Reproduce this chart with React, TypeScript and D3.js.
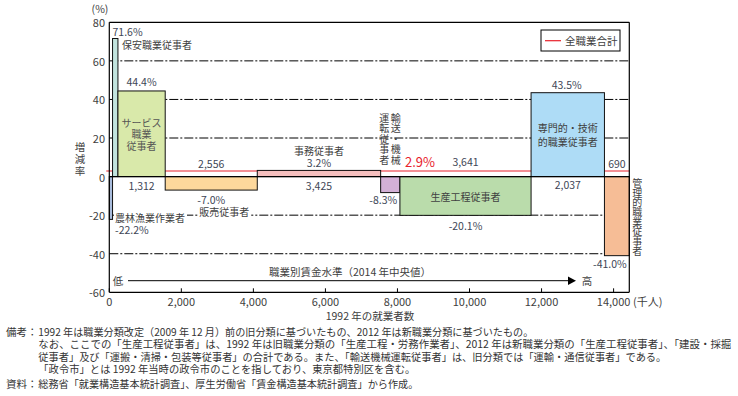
import { scaleLinear, format, cumsum } from 'd3';

const W = 738;
const H = 396;
const FONT = '"Noto Sans CJK JP", "Noto Sans", sans-serif';
const TXT = '#404040';
const LBL = '#3e4656';
const RED = '#e8212b';

// sorted by 2014 median wage, low -> high
const occupations = [
  '農林漁業作業者',
  '保安職業従事者',
  'サービス職業従事者',
  '販売従事者',
  '事務従事者',
  '輸送・機械運転従事者',
  '生産工程従事者',
  '専門的・技術的職業従事者',
  '管理的職業従事者',
];
const workers1992 = [90, 150, 1312, 2556, 3425, 535, 3641, 2037, 690];
const changeRate = [-22.2, 71.6, 44.4, -7.0, 3.2, -8.3, -20.1, 43.5, -41.0];
const barColors = ['#a9bcdc', '#c2e4de', '#d9e9aa', '#fdd89c', '#f5bfbe', '#d3b0d6', '#badcab', '#aedcf6', '#f6bd96'];
const totalChange = 2.9;
const yTicks = [-60, -40, -20, 0, 20, 40, 60, 80];
const gridValues = [-40, -20, 20, 40, 60];
const xTicks = [0, 2000, 4000, 6000, 8000, 10000, 12000, 14000];
const notesHead = ['備考：', '', '', '', '資料：'];
const notes = [
  '1992 年は職業分類改定（2009 年 12 月）前の旧分類に基づいたもの、2012 年は新職業分類に基づいたもの。',
  'なお、ここでの「生産工程従事者」は、1992 年は旧職業分類の「生産工程・労務作業者」、2012 年は新職業分類の「生産工程従事者」、「建設・採掘',
  '従事者」及び「運搬・清掃・包装等従事者」の合計である。また、「輸送機械運転従事者」は、旧分類では「運輸・通信従事者」である。',
  '「政令市」とは 1992 年当時の政令市のことを指しており、東京都特別区を含む。',
  '総務省「就業構造基本統計調査」、厚生労働省「賃金構造基本統計調査」から作成。',
];
const notesWidth = [495, 693, 628, 377, 380];
const notesY = [331, 343.5, 356, 368.5, 383.5];

const fmtCount = format(',');
const fmtPct = (v: number) => v.toFixed(1) + '%';

// one vertical (top-to-bottom) line of Japanese text
function VText({ x, y, text, size = 10, spacing = 0 }: { x: number; y: number; text: string; size?: number; spacing?: number }) {
  return (
    <text
      x={x}
      y={y}
      textAnchor="start"
      fontSize={size}
      fill={TXT}
      style={{ writingMode: 'vertical-rl', letterSpacing: spacing }}
    >
      {text}
    </text>
  );
}

type Line = { s: string; dy: number; fill?: string; size?: number };

// stacked lines in one <text>, first line at y
function Lines({ x, y, lines, anchor = 'middle' }: { x: number; y: number; lines: Line[]; anchor?: string }) {
  return (
    <text x={x} y={y} textAnchor={anchor} dominantBaseline="central">
      {lines.map((l, i) => (
        <tspan key={i} x={x} dy={l.dy} fontSize={l.size ?? 10.5} fill={l.fill ?? LBL} dominantBaseline="central">
          {l.s}
        </tspan>
      ))}
    </text>
  );
}

export default function App() {
  const total = workers1992.reduce((a, b) => a + b, 0);
  const ends = Array.from(cumsum(workers1992));
  const starts = ends.map((e, i) => e - workers1992[i]);

  const x = scaleLinear().domain([0, total]).range([109.3, 629.3]);
  const y = scaleLinear().domain([-60, 80]).range([292.3, 22.3]);

  const left = x(0);
  const right = x(total);
  const cx = (i: number) => (x(starts[i]) + x(ends[i])) / 2;
  const y0 = y(0);

  const t = (
    key: string,
    tx: number,
    ty: number,
    s: string,
    opts: { anchor?: string; size?: number; fill?: string } = {}
  ) => (
    <text
      key={key}
      x={tx}
      y={ty}
      textAnchor={opts.anchor ?? 'middle'}
      dominantBaseline="central"
      fontSize={opts.size ?? 10.5}
      fill={opts.fill ?? LBL}
    >
      {s}
    </text>
  );

  return (
    <svg width={W} height={H} style={{ position: 'absolute', left: 0, top: 0, fontFamily: FONT }}>
      <rect width={W} height={H} fill="#fff" />

      {/* gridlines */}
      {gridValues.map((v) => (
        <line key={v} x1={left} x2={right} y1={y(v)} y2={y(v)} stroke="#000" strokeWidth={1} strokeDasharray="9 2 2 2" />
      ))}

      {/* all-occupation total */}
      <line x1={left - 3} x2={right} y1={y(totalChange)} y2={y(totalChange)} stroke={RED} strokeWidth={1.2} />

      {/* bars */}
      {changeRate.map((v, i) => (
        <rect
          key={occupations[i]}
          x={x(starts[i])}
          width={x(ends[i]) - x(starts[i])}
          y={Math.min(y(v), y0)}
          height={Math.abs(y(v) - y0)}
          fill={barColors[i]}
          stroke="#111"
          strokeWidth={1}
        />
      ))}

      {/* frame */}
      <line x1={left} x2={right} y1={y0} y2={y0} stroke="#000" strokeWidth={1.2} />
      <line x1={left} x2={right} y1={y(80)} y2={y(80)} stroke="#000" strokeWidth={1.2} />
      <line x1={left} x2={right} y1={y(-60)} y2={y(-60)} stroke="#000" strokeWidth={1.2} />
      <line x1={left} x2={left} y1={y(80)} y2={y(-60)} stroke="#000" strokeWidth={1.2} />
      <line x1={right} x2={right} y1={y(80)} y2={y(-60)} stroke="#000" strokeWidth={1.2} />

      {/* y axis */}
      {yTicks.map((v) => t('yt' + v, 105, y(v), String(v), { anchor: 'end', size: 11, fill: TXT }))}
      {t('pct', 100, 8, '(%)', { size: 10.5, fill: TXT })}
      <VText x={80} y={142} text="増減率" size={10.5} spacing={1.5} />

      {/* x axis */}
      {xTicks.map((v) => (
        <g key={'xt' + v}>
          <line x1={x(v)} x2={x(v)} y1={y(-60)} y2={y(-60) - 4} stroke="#000" />
          {t('xl' + v, x(v), 301, fmtCount(v), { size: 11, fill: TXT })}
        </g>
      ))}
      {t('unit', 633, 301, '(千人)', { anchor: 'start', size: 11, fill: TXT })}
      {t('xtitle', 370, 315, '1992 年の就業者数', { size: 10.5, fill: TXT })}

      {/* wage arrow */}
      <line x1={128} x2={570} y1={280.7} y2={280.7} stroke="#000" strokeWidth={1} />
      <path d="M568,276.5 L576,280.7 L568,284.9 Z" fill="#000" />
      {t('low', 118, 280.7, '低', { fill: TXT })}
      {t('high', 587, 280.7, '高', { fill: TXT })}
      {t('wage', 350, 271.5, '職業別賃金水準（2014 年中央値）', { fill: TXT })}

      {/* 0 農林漁業作業者 */}
      <rect x={114} y={y(-20) - 5} width={73} height={12} fill="#fff" />
      <Lines
        x={115}
        y={y(-20) + 2}
        anchor="start"
        lines={[
          { s: occupations[0], dy: 0, size: 10, fill: TXT },
          { s: fmtPct(changeRate[0]), dy: 12 },
        ]}
      />

      {/* 1 保安 */}
      {t('p1', x(starts[1]), y(changeRate[1]) - 7, fmtPct(changeRate[1]), { anchor: 'start' })}
      {t('n1', x(ends[1]) + 4, y(changeRate[1]) + 6, occupations[1], { anchor: 'start', size: 10, fill: TXT })}

      {/* 2 サービス */}
      {t('p2', cx(2), y(changeRate[2]) - 9, fmtPct(changeRate[2]))}
      <Lines
        x={cx(2)}
        y={y(changeRate[2]) + 31}
        lines={['サービス', '職業', '従事者'].map((s, k) => ({ s, dy: k ? 11.5 : 0, size: 10, fill: '#555' }))}
      />
      {t('c2', cx(2), y0 + 9, fmtCount(workers1992[2]))}

      {/* 3 販売 */}
      {t('c3', cx(3), y0 - 13, fmtCount(workers1992[3]))}
      {t('p3', cx(3), y(changeRate[3]) + 9, fmtPct(changeRate[3]))}
      <rect x={cx(3) - 13} y={y(-20) - 6} width={53} height={12} fill="#fff" />
      {t('n3', cx(3) + 13, y(-20) - 3.5, occupations[3], { size: 10, fill: TXT })}

      {/* 4 事務 */}
      <Lines
        x={cx(4)}
        y={y(changeRate[4]) - 20.5}
        lines={[
          { s: occupations[4], dy: 0, size: 10, fill: TXT },
          { s: fmtPct(changeRate[4]), dy: 11.8 },
        ]}
      />
      {t('c4', cx(4), y0 + 9, fmtCount(workers1992[4]))}

      {/* 5 輸送・機械運転 */}
      <VText x={cx(5) + 5.5} y={113} text="輸送・機械" size={10} spacing={0.5} />
      <VText x={cx(5) - 6} y={113} text="運転従事者" size={10} spacing={0.5} />
      {t('p5', cx(5) - 7, y(changeRate[5]) + 7, fmtPct(changeRate[5]))}
      {t('tot', 405, 161.7, fmtPct(totalChange), { anchor: 'start', size: 13, fill: RED })}

      {/* 6 生産工程 */}
      {t('c6', cx(6), 161.7, fmtCount(workers1992[6]))}
      {t('n6', cx(6), 196, occupations[6], { size: 10, fill: TXT })}
      {t('p6', cx(6), y(changeRate[6]) + 10.5, fmtPct(changeRate[6]))}

      {/* 7 専門的・技術的 */}
      {t('p7', cx(7) - 1, y(changeRate[7]) - 8, fmtPct(changeRate[7]))}
      <Lines
        x={cx(7)}
        y={126.7}
        lines={[
          { s: '専門的・技術', dy: 0, size: 10, fill: TXT },
          { s: '的職業従事者', dy: 14, size: 10, fill: TXT },
        ]}
      />
      {t('c7', cx(7), y0 + 8, fmtCount(workers1992[7]))}

      {/* 8 管理的 */}
      {t('c8', cx(8), y0 - 13, fmtCount(workers1992[8]))}
      <VText x={637.3} y={178} text={occupations[8]} size={10} spacing={-0.3} />
      {t('p8', cx(8) - 7, y(changeRate[8]) + 7.5, fmtPct(changeRate[8]))}

      {/* legend */}
      <rect x={541} y={30} width={79} height={21} fill="#fff" stroke="#000" strokeWidth={1} />
      <line x1={545} x2={561} y1={40.7} y2={40.7} stroke={RED} strokeWidth={1.2} />
      {t('leg', 565, 40.7, '全職業合計', { anchor: 'start', size: 10.5, fill: TXT })}

      {/* notes */}
      {notes.map((s, i) => (
        <g key={'note' + i}>
          {notesHead[i] && t('nh' + i, 6, notesY[i], notesHead[i], { anchor: 'start', fill: '#333' })}
          <text
            x={38.3}
            y={notesY[i]}
            dominantBaseline="central"
            fontSize={10.5}
            fill="#333"
            textLength={notesWidth[i]}
            lengthAdjust="spacingAndGlyphs"
          >
            {s}
          </text>
        </g>
      ))}
    </svg>
  );
}
